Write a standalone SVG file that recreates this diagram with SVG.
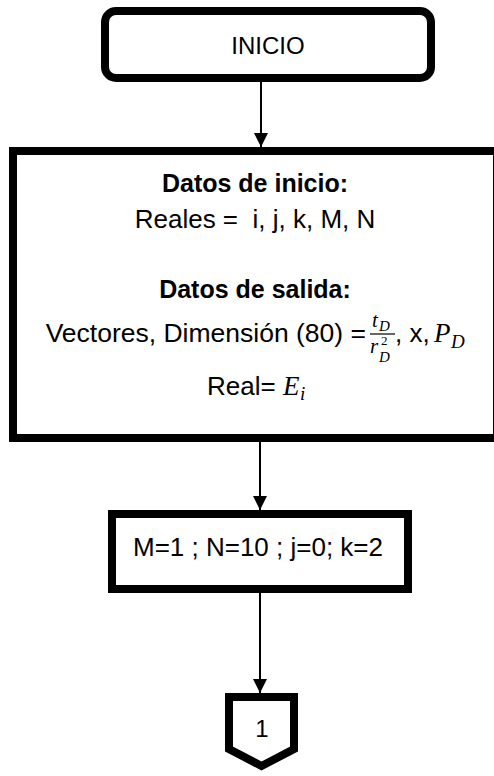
<svg xmlns="http://www.w3.org/2000/svg" width="494" height="776" viewBox="0 0 494 776">
  <defs>
    <marker id="arr" markerUnits="userSpaceOnUse" markerWidth="14" markerHeight="14" refX="14" refY="7" orient="auto">
      <path d="M0,0 L14,7 L0,14 Z" fill="#000"/>
    </marker>
    <style>
      .box { fill: #fff; stroke: #000; stroke-width: 8; }
      .t { font-family: "Liberation Sans", Arial, sans-serif; font-size: 26px; fill: #000; white-space: pre; }
      .b { font-weight: bold; font-size: 25px; }
      .m { font-family: "Liberation Serif", "Times New Roman", serif; font-style: italic; fill: #000; }
      .conn { stroke: #000; stroke-width: 2; fill: none; }
    </style>
  </defs>
  <rect width="494" height="776" fill="#fff"/>

  <g id="connectors">
    <line class="conn" x1="261" y1="82" x2="261" y2="147" marker-end="url(#arr)"/>
    <line class="conn" x1="260" y1="442" x2="260" y2="510" marker-end="url(#arr)"/>
    <line class="conn" x1="260" y1="593" x2="260" y2="693" marker-end="url(#arr)"/>
  </g>

  <g id="inicio">
    <rect class="box" x="105" y="11" width="326" height="67" rx="11"/>
    <text class="t" x="268" y="54" text-anchor="middle" style="font-size:24px">INICIO</text>
  </g>

  <g id="datos">
    <rect class="box" x="13" y="151" width="484" height="287"/>
    <text class="t b" x="255" y="192" text-anchor="middle">Datos de inicio:</text>
    <text class="t" x="255" y="228" text-anchor="middle">Reales =  i, j, k, M, N</text>
    <text class="t b" x="255" y="298" text-anchor="middle">Datos de salida:</text>
    <text class="t" x="366" y="342" text-anchor="end" style="font-size:26.5px">Vectores, Dimensión (80) =</text>
    <text class="m" x="372" y="327" font-size="21">t</text>
    <text class="m" x="379" y="331" font-size="15">D</text>
    <line x1="370" y1="334" x2="395" y2="334" stroke="#000" stroke-width="1.2"/>
    <text class="m" x="370" y="353" font-size="21">r</text>
    <text class="m" x="381" y="345" font-size="13" style="font-style:normal">2</text>
    <text class="m" x="379" y="362" font-size="15">D</text>
    <text class="t" x="395" y="342" style="font-size:26px">, x,</text>
    <text class="m" x="434" y="342" font-size="27">P</text>
    <text class="m" x="451" y="348" font-size="19">D</text>
    <text class="t" x="207" y="395" style="font-size:26px">Real=</text>
    <text class="m" x="283" y="395" font-size="27">E</text>
    <text class="m" x="300" y="400" font-size="19">i</text>
  </g>

  <g id="asignacion">
    <rect class="box" x="112" y="514" width="296" height="75"/>
    <text class="t" x="258" y="556" text-anchor="middle">M=1 ; N=10 ; j=0; k=2</text>
  </g>

  <g id="conector1">
    <path class="box" d="M229,697 H294 V749 L261.5,766 L229,749 Z" stroke-linejoin="miter"/>
    <text class="t" x="262" y="737" text-anchor="middle" style="font-size:24px">1</text>
  </g>
</svg>
